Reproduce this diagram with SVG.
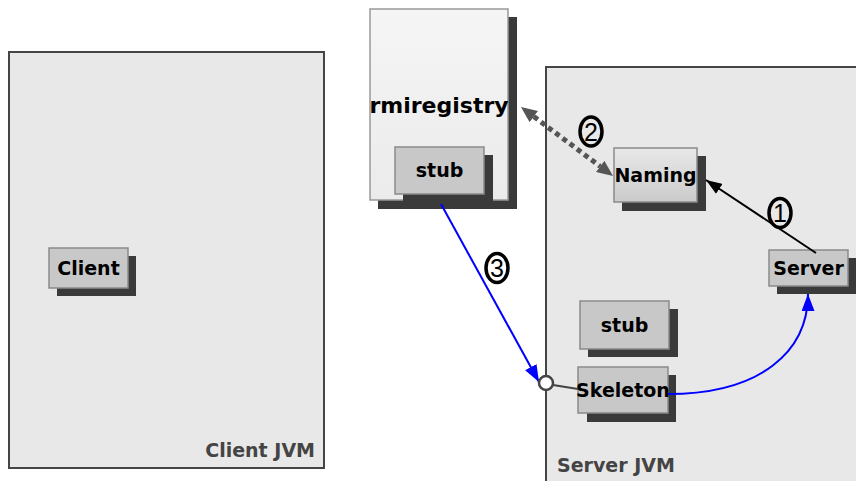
<svg xmlns="http://www.w3.org/2000/svg" width="856" height="481" viewBox="0 0 856 481">
<style>
.jvm{fill:#e8e8e8;stroke:#454545;stroke-width:2}
.jvmlbl{font-family:"DejaVu Sans",sans-serif;font-weight:bold;font-size:19px;fill:#444}
.shadow{fill:#3a3a3a}
.box{fill:#c8c8c8;stroke:#8a8a8a;stroke-width:1.5}
.lbl{font-family:"DejaVu Sans",sans-serif;font-weight:bold;font-size:19px;fill:#000;text-anchor:middle}
.num{fill:none;stroke:#000;stroke-width:3.5}
.numt{font-family:"Liberation Sans",sans-serif;font-size:25px;fill:#000;text-anchor:middle}
</style>
<defs>
<linearGradient id="gReg" x1="0" y1="0" x2="0" y2="1"><stop offset="0" stop-color="#f5f5f5"/><stop offset="1" stop-color="#ebebeb"/></linearGradient>
<linearGradient id="gNaming" x1="0" y1="0" x2="0" y2="1"><stop offset="0" stop-color="#e8e8e8"/><stop offset="1" stop-color="#cbcbcb"/></linearGradient>
<marker id="mBlack" viewBox="0 0 16 12" refX="16" refY="6" markerWidth="16" markerHeight="12" markerUnits="userSpaceOnUse" orient="auto"><path d="M0,0 L16,6 L0,12 z" fill="#000"/></marker>
<marker id="mBlue" viewBox="0 0 17 13" refX="17" refY="6.5" markerWidth="17" markerHeight="13" markerUnits="userSpaceOnUse" orient="auto"><path d="M0,0 L17,6.5 L0,13 z" fill="#0000ff"/></marker>
<marker id="mGray" viewBox="0 0 16 14" refX="0" refY="7" markerWidth="16" markerHeight="14" markerUnits="userSpaceOnUse" orient="auto-start-reverse"><path d="M0,0 L16,7 L0,14 z" fill="#555"/></marker>
</defs>
<rect width="856" height="481" fill="#fff"/>

<g id="client-jvm">
<rect class="jvm" x="9" y="52" width="315" height="416"/>
<text class="jvmlbl" x="315" y="457" text-anchor="end">Client JVM</text>
</g>
<g id="server-jvm">
<rect class="jvm" x="546" y="67" width="320" height="430"/>
<text class="jvmlbl" x="557" y="472">Server JVM</text>
</g>

<g id="rmiregistry">
<rect class="shadow" x="378" y="17" width="139" height="192"/>
<rect x="370" y="9" width="138" height="191" fill="url(#gReg)" stroke="#999" stroke-width="1.5"/>
<text class="lbl" x="439" y="113" style="font-size:22px">rmiregistry</text>
</g>
<g id="registry-stub">
<rect class="shadow" x="403" y="155" width="90" height="47"/>
<rect class="box" x="395" y="147" width="89" height="47"/>
<text class="lbl" x="439.5" y="177">stub</text>
</g>
<g id="client">
<rect class="shadow" x="57" y="256" width="79" height="40"/>
<rect class="box" x="49" y="248" width="79" height="40"/>
<text class="lbl" x="88.5" y="275">Client</text>
</g>
<g id="naming">
<rect class="shadow" x="622" y="156" width="84" height="55"/>
<rect x="614" y="148" width="83" height="54" fill="url(#gNaming)" stroke="#8a8a8a" stroke-width="1.5"/>
<text class="lbl" x="655.5" y="182">Naming</text>
</g>
<g id="server">
<rect class="shadow" x="777" y="258" width="80" height="36"/>
<rect class="box" x="769" y="250" width="79" height="36"/>
<text class="lbl" x="808.5" y="275">Server</text>
</g>
<g id="server-stub">
<rect class="shadow" x="588" y="309" width="90" height="48"/>
<rect class="box" x="580" y="301" width="89" height="48"/>
<text class="lbl" x="624.5" y="332">stub</text>
</g>
<g id="skeleton">
<rect class="shadow" x="587" y="375" width="89" height="47"/>
<rect class="box" x="578" y="367" width="90" height="46"/>
<text class="lbl" x="623" y="397">Skeleton</text>
</g>

<g id="connectors">
<line x1="816" y1="253" x2="706" y2="180" stroke="#000" stroke-width="2" marker-end="url(#mBlack)"/>
<line x1="533.8" y1="116.6" x2="600.2" y2="166.4" stroke="#555" stroke-width="5" stroke-dasharray="5 4" marker-start="url(#mGray)" marker-end="url(#mGray)"/>
<line x1="441" y1="204" x2="539" y2="382" stroke="#0000ff" stroke-width="2" marker-end="url(#mBlue)"/>
<path d="M668,394 C760,394 808,352 808,294" fill="none" stroke="#0000ff" stroke-width="2" marker-end="url(#mBlue)"/>
<line x1="553" y1="385" x2="578" y2="389" stroke="#444" stroke-width="2"/>
<circle cx="546" cy="383" r="7" fill="#fff" stroke="#444" stroke-width="2.5"/>
</g>

<g id="labels">
<ellipse class="num" cx="780" cy="213" rx="11" ry="14.5"/>
<text class="numt" x="780" y="222">1</text>
<ellipse class="num" cx="591" cy="131.5" rx="11" ry="14.5"/>
<text class="numt" x="591" y="140.5">2</text>
<ellipse class="num" cx="497" cy="268" rx="11" ry="14.5"/>
<text class="numt" x="497" y="277">3</text>
</g>
</svg>
